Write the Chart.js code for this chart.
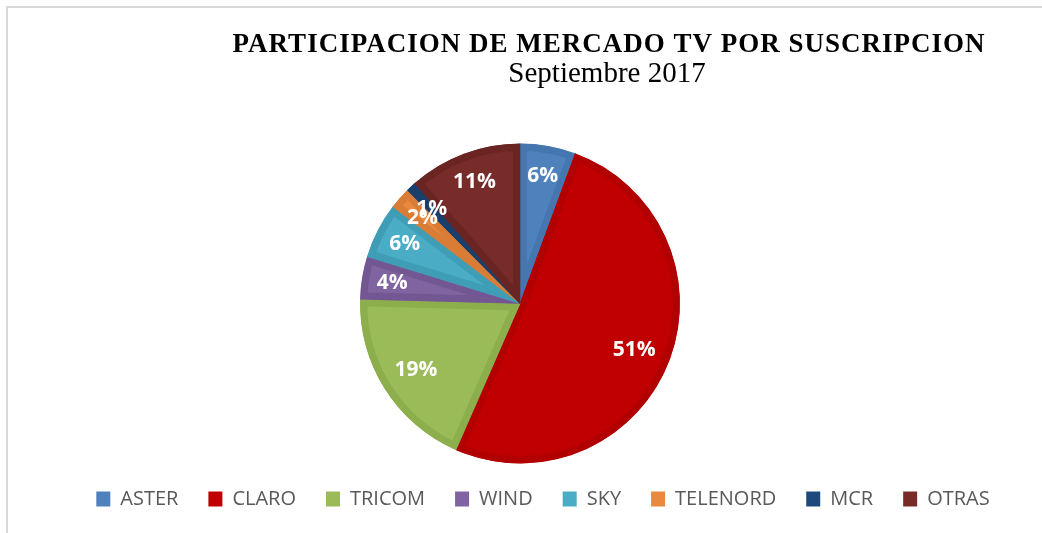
<!DOCTYPE html>
<html>
<head>
<meta charset="utf-8">
<script src="https://cdn.jsdelivr.net/npm/chart.js@4.4.1/dist/chart.umd.min.js"></script>
<style>
  html, body { margin: 0; padding: 0; background: #fff; }
  #wrap { position: relative; width: 1042px; height: 533px; }
</style>
</head>
<body>
<div id="wrap"><canvas id="pieChart" width="1042" height="533"></canvas></div>
<script>
// Data
const operators = ["ASTER", "CLARO", "TRICOM", "WIND", "SKY", "TELENORD", "MCR", "OTRAS"];
const shares = [5.6, 50.8, 18.8, 4.3, 5.6, 2.2, 1.0, 11.4];
const sliceColors = ["#4F81BD", "#C00000", "#9BBB59", "#8064A2", "#4BACC6", "#E8893F", "#1F497D", "#772C2A"];
const edgeColors = ["#4676AF", "#B20000", "#8DAE4C", "#735793", "#3F9DB6", "#D97C35", "#1A3F6C", "#6A2523"];

const chartTitle = "PARTICIPACION DE MERCADO TV POR SUSCRIPCION";
const chartSubtitle = "Septiembre 2017";

// draws the frame lines and the two title rows
const titlePlugin = {
  id: "titlePlugin",
  beforeDraw(chart) {
    const ctx = chart.ctx;
    ctx.save();
    ctx.strokeStyle = "#d9d9d9";
    ctx.lineWidth = 2;
    ctx.beginPath();
    ctx.moveTo(7, chart.height);
    ctx.lineTo(7, 7);
    ctx.lineTo(chart.width, 7);
    ctx.stroke();
    ctx.restore();
  },
  afterDraw(chart) {
    const ctx = chart.ctx;
    ctx.save();
    ctx.fillStyle = "#000";
    ctx.textAlign = "center";
    ctx.textBaseline = "alphabetic";
    ctx.font = "bold 27px 'Liberation Serif'";
    ctx.letterSpacing = "1px";
    ctx.fillText(chartTitle, 609, 52);
    ctx.letterSpacing = "0px";
    ctx.font = "29px 'Liberation Serif'";
    ctx.fillText(chartSubtitle, 607, 82);
    ctx.restore();
  }
};

// percentage labels inside the slices
const pctLabels = {
  id: "pctLabels",
  afterDatasetsDraw(chart) {
    const ctx = chart.ctx;
    const meta = chart.getDatasetMeta(0);
    const data = chart.data.datasets[0].data;
    const total = data.reduce((a, b) => a + b, 0);
    ctx.save();
    ctx.fillStyle = "#fff";
    ctx.font = "bold 21px 'Open Sans'";
    ctx.textAlign = "center";
    ctx.textBaseline = "middle";
    meta.data.forEach((arc, i) => {
      const p = arc.getProps(["x", "y", "startAngle", "endAngle", "outerRadius"], true);
      const mid = (p.startAngle + p.endAngle) / 2;
      const share = data[i] / total;
      const r = p.outerRadius * (share > 0.15 ? 0.77 : 0.81);
      const txt = Math.round(share * 100) + "%";
      ctx.fillText(txt, p.x + Math.cos(mid) * r, p.y + Math.sin(mid) * r);
    });
    ctx.restore();
  }
};

// legend sits a little to the right of the pie centre
const legendShift = {
  id: "legendShift",
  afterLayout(chart) {
    chart.legend.left += 23;
    chart.legend.right += 23;
  }
};

const ctx = document.getElementById("pieChart").getContext("2d");
new Chart(ctx, {
  type: "pie",
  data: {
    labels: operators,
    datasets: [{
      data: shares,
      backgroundColor: sliceColors,
      borderColor: edgeColors,
      borderWidth: 7,
      borderAlign: "inner"
    }]
  },
  options: {
    responsive: false,
    animation: false,
    radius: 160,
    layout: { padding: { top: 148, bottom: 14, left: 0, right: 2 } },
    plugins: {
      title: { display: false },
      tooltip: { enabled: false },
      legend: {
        position: "bottom",
        labels: {
          font: { family: "'Open Sans'", size: 20 },
          color: "#595959",
          boxWidth: 14,
          boxHeight: 15,
          padding: 30,
          generateLabels(chart) {
            const items = Chart.overrides.pie.plugins.legend.labels.generateLabels(chart);
            return items.map(it => Object.assign(it, { lineWidth: 0, strokeStyle: it.fillStyle }));
          }
        }
      }
    }
  },
  plugins: [titlePlugin, pctLabels, legendShift]
});
</script>
</body>
</html>
